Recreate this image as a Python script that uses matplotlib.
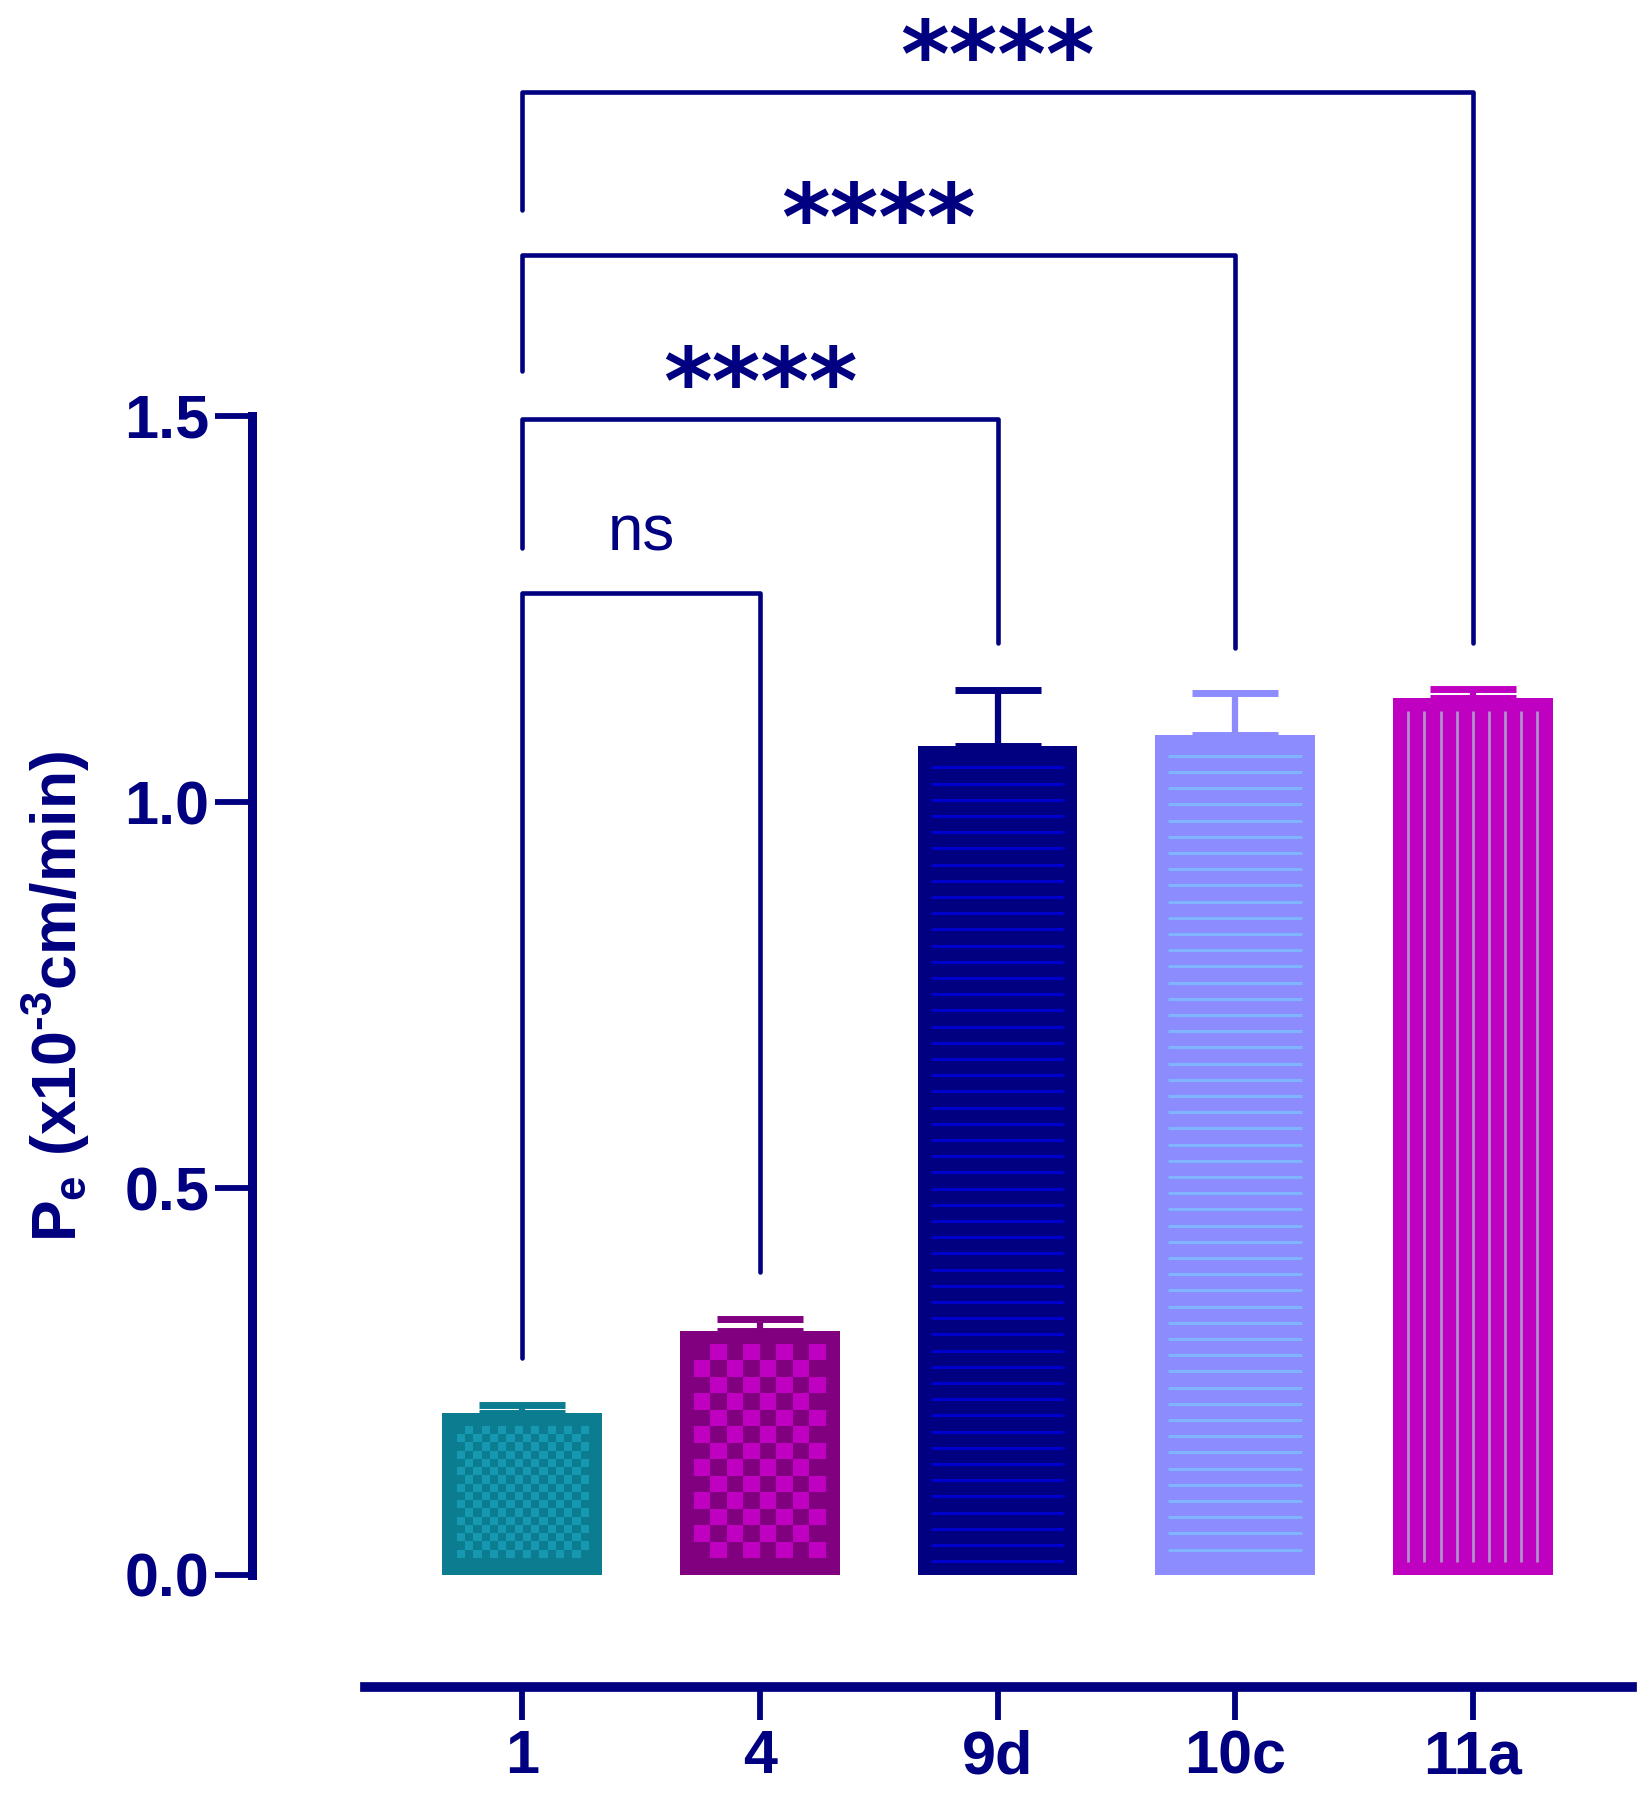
import numpy as np
import matplotlib.pyplot as plt
from matplotlib.ticker import FormatStrFormatter

plt.rcParams['font.family'] = ['Liberation Sans', 'DejaVu Sans']
plt.rcParams['mathtext.fontset'] = 'custom'
plt.rcParams['mathtext.rm'] = 'Liberation Sans:bold'
plt.rcParams['mathtext.it'] = 'Liberation Sans:bold'
plt.rcParams['mathtext.bf'] = 'Liberation Sans:bold'

# data
labels = ['1', '4', '9d', '10c', '11a']
means = [0.209, 0.315, 1.072, 1.087, 1.134]
sem = [0.011, 0.016, 0.073, 0.054, 0.012]

# comparisons (all against compound 1)
comp_pairs = [(0, 1), (0, 2), (0, 3), (0, 4)]
comp_heights = [1.270, 1.496, 1.708, 1.919]
comp_left_end = [0.281, 1.329, 1.558, 1.766]
comp_right_end = [0.392, 1.206, 1.199, 1.206]
comp_text = ['ns', '****', '****', '****']

# styles
navy = '#000080'
bar_colors = ['#0C7D91', '#800080', '#000080', '#8C8CFF', '#C000C0']
pat_colors = ['#1698B0', '#C000C0', '#0000CC', '#80B4FF', '#B090C8']
patterns = ['checker', 'checker', 'hlines', 'hlines', 'vlines']
cell_px = [8.2, 16.4, 16.2, 16.2, 16.1]

fig = plt.figure(figsize=(16.46, 18), dpi=100)
ax_pos = [0.1534, 0.06256, 0.8383, 0.93744]
ax = fig.add_axes(ax_pos)
xlim = (-1.1353, 4.6715)
ylim = (-0.1455, 2.0377)
ax.set_xlim(xlim)
ax.set_ylim(ylim)

# pixel -> data conversion
sx = ax_pos[2] * 1646 / (xlim[1] - xlim[0])
sy = ax_pos[3] * 1800 / (ylim[1] - ylim[0])

x = np.arange(len(labels))
width = 0.673
ax.bar(x, means, width=width, color=bar_colors, linewidth=0, zorder=2)

inset = 13
for i in range(len(labels)):
    left = x[i] - width / 2 + inset / sx
    right = x[i] + width / 2 - inset / sx
    top = means[i] - inset / sy
    bottom = inset / sy
    c = pat_colors[i]
    if patterns[i] == 'checker':
        cx = cell_px[i] / sx
        cy = cell_px[i] / sy
        ncol = int(round((right - left) / cx))
        nrow = int((top - bottom) / cy)
        img = np.zeros((nrow, ncol, 4))
        rgb = plt.matplotlib.colors.to_rgb(c)
        for r in range(nrow):
            for k in range(ncol):
                if (r + k) % 2 == 1:
                    img[r, k, :3] = rgb
                    img[r, k, 3] = 1
        xc = x[i]
        ax.imshow(img, extent=(xc - ncol * cx / 2, xc + ncol * cx / 2, top - nrow * cy, top),
                  aspect='auto', interpolation='nearest', zorder=3)
    elif patterns[i] == 'hlines':
        ys = np.arange(means[i] - 21 / sy, bottom, -cell_px[i] / sy)
        ax.hlines(ys, left, right, colors=c, linewidth=2.2, zorder=3)
    else:
        n = int((right - left) * sx / cell_px[i]) + 1
        span = (n - 1) * cell_px[i] / sx
        xs = x[i] - span / 2 + np.arange(n) * cell_px[i] / sx
        ax.vlines(xs, bottom, top, colors=c, linewidth=2.0, zorder=3)

    # upper error bar only
    ax.errorbar(x[i], means[i], yerr=[[0], [sem[i]]], fmt='none', ecolor=bar_colors[i],
                elinewidth=4.5, capsize=31, capthick=5, zorder=1.5)

# significance brackets
for (a, b), h, l1, l2, t in zip(comp_pairs, comp_heights, comp_left_end, comp_right_end, comp_text):
    ax.plot([x[a], x[a], x[b], x[b]], [l1, h, h, l2], color=navy, linewidth=3.3,
            solid_capstyle='round', solid_joinstyle='round', zorder=4)
    if t == 'ns':
        ax.text((x[a] + x[b]) / 2, h + 0.055, t, ha='center', va='baseline',
                fontsize=46, color=navy)
    else:
        ax.text((x[a] + x[b]) / 2, h + 0.006, t, ha='center', va='baseline',
                fontsize=67, fontweight='bold', family='DejaVu Sans', color=navy)

# axes styling
for s in ['top', 'right']:
    ax.spines[s].set_visible(False)
ax.spines['left'].set_bounds(0, 1.5)
ax.spines['left'].set_linewidth(6.5)
ax.spines['left'].set_color(navy)
ax.spines['left'].set_capstyle('projecting')
ax.spines['bottom'].set_bounds(-0.662, xlim[1])
ax.spines['bottom'].set_linewidth(7)
ax.spines['bottom'].set_color(navy)

ax.set_yticks([0, 0.5, 1.0, 1.5])
ax.yaxis.set_major_formatter(FormatStrFormatter('%.1f'))
ax.set_xticks(x)
ax.set_xticklabels(labels)
ax.tick_params(axis='y', length=27, width=4.2, color=navy, pad=4,
               labelsize=44, labelcolor=navy)
ax.tick_params(axis='x', length=24, width=4.2, color=navy, pad=6,
               labelsize=44, labelcolor=navy)
for lab in ax.get_xticklabels() + ax.get_yticklabels():
    lab.set_fontweight('bold')

fig.text(56 / 1646, 1 - 997 / 1800, '$P_e\\ (x10^{\u20103}cm/min)$', rotation=90,
         ha='center', va='center', fontsize=45, color=navy)

ax.set_xlim(xlim)
ax.set_ylim(ylim)

fig.savefig('out.png', dpi=100)
